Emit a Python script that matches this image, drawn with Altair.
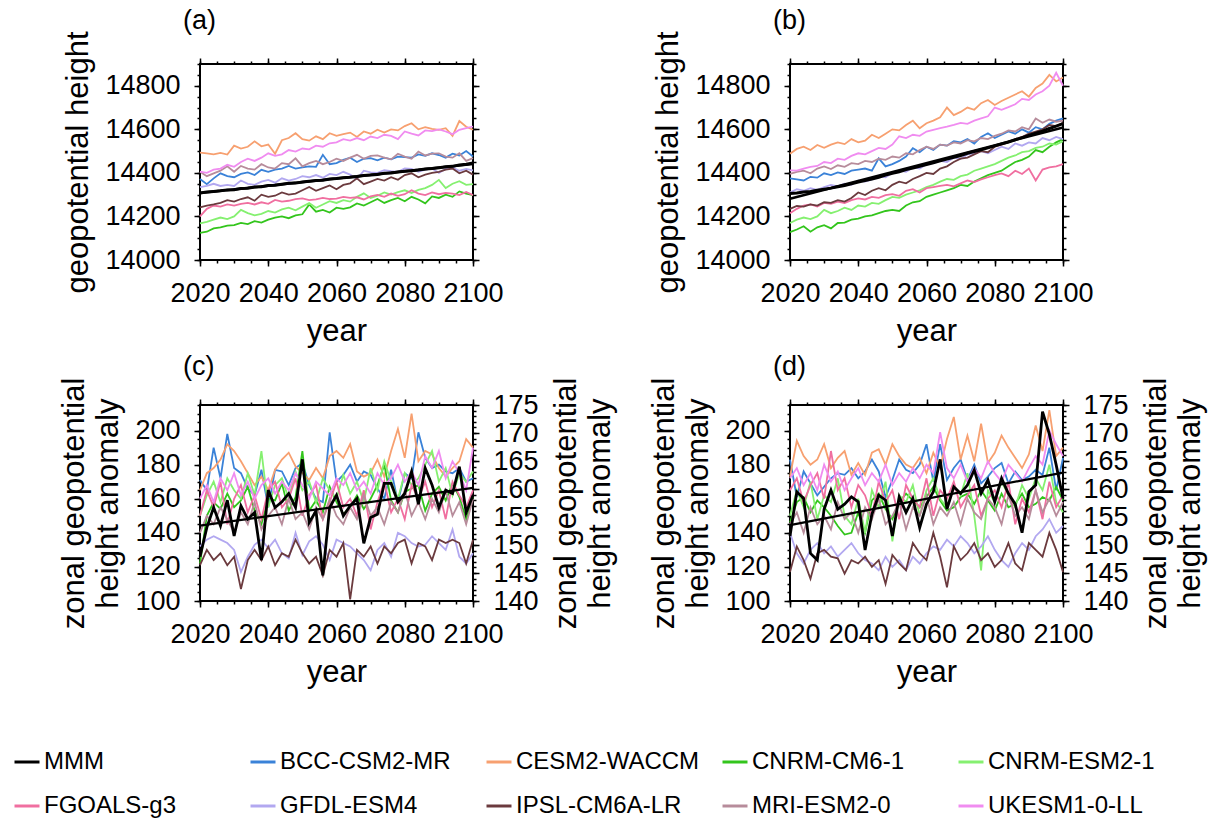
import altair as alt
import pandas as pd

FONT = "Liberation Sans"

YEARS = list(range(2020, 2101, 2))

MODELS = ["BCC-CSM2-MR", "CESM2-WACCM", "CNRM-CM6-1", "CNRM-ESM2-1", "FGOALS-g3",
          "GFDL-ESM4", "IPSL-CM6A-LR", "MRI-ESM2-0", "UKESM1-0-LL"]
SERIES = ["MMM"] + MODELS
COLORS = ["#000000", "#3a82d8", "#f7a070", "#33c51c", "#85f070",
          "#f06fa0", "#b2a8f0", "#6b3a3e", "#b78c9b", "#f08cf0"]

X_MAJOR = [2020, 2040, 2060, 2080, 2100]
X_MINOR = list(range(2020, 2101, 5))
TOP_Y_MAJOR = [14000, 14200, 14400, 14600, 14800]
TOP_Y_MINOR = list(range(14000, 14901, 50))
LEFT_MAJOR = [100, 120, 140, 160, 180, 200]
LEFT_MINOR = list(range(100, 216, 5))
RIGHT_MAJOR = [140, 145, 150, 155, 160, 165, 170, 175]
RIGHT_MINOR = list(range(140, 176, 1))

# ---------------- panel (a) ----------------
A_MODELS = {
    "BCC-CSM2-MR": [14372, 14348, 14375, 14398, 14385, 14380, 14395, 14402, 14390, 14414,
                    14405, 14415, 14420, 14432, 14420, 14425, 14430, 14428, 14483, 14440,
                    14445, 14460, 14470, 14450, 14465, 14468, 14458, 14470, 14462, 14475,
                    14472, 14470, 14485, 14478, 14490, 14482, 14470, 14488, 14480, 14500, 14475],
    "CESM2-WACCM": [14493, 14490, 14485, 14492, 14484, 14525, 14512, 14520, 14545, 14522,
                    14530, 14488, 14550, 14560, 14582, 14555, 14548, 14568, 14555, 14582,
                    14570, 14578, 14585, 14565, 14590, 14580, 14598, 14585, 14600, 14595,
                    14615, 14628, 14600, 14610, 14602, 14598, 14605, 14570, 14638, 14612, 14598],
    "CNRM-CM6-1": [14125, 14130, 14145, 14150, 14158, 14160, 14170, 14165, 14178, 14172,
                   14185, 14195, 14200, 14192, 14205, 14210, 14255, 14222, 14230, 14218,
                   14240, 14235, 14242, 14260, 14250, 14265, 14280, 14262, 14275, 14285,
                   14270, 14290, 14278, 14260, 14292, 14285, 14300, 14290, 14315, 14305, 14298],
    "CNRM-ESM2-1": [14168, 14175, 14185, 14195, 14188, 14200, 14230, 14215, 14205, 14212,
                    14225, 14218, 14232, 14240, 14228, 14245, 14262, 14240, 14255, 14270,
                    14262, 14275, 14268, 14290, 14306, 14285, 14295, 14310, 14300, 14312,
                    14320, 14308, 14322, 14330, 14345, 14368, 14330, 14350, 14362, 14345, 14348],
    "FGOALS-g3": [14200, 14235, 14250, 14245, 14255, 14250, 14258, 14262, 14255, 14265,
                  14258, 14276, 14268, 14272, 14280, 14283, 14275, 14278, 14285, 14280,
                  14282, 14290, 14285, 14288, 14278, 14292, 14299, 14290, 14305, 14295,
                  14302, 14320, 14305, 14298, 14310, 14302, 14308, 14305, 14298, 14312, 14298],
    "GFDL-ESM4": [14335, 14340, 14350, 14340, 14345, 14340, 14365, 14350, 14345, 14360,
                  14368, 14355, 14375, 14365, 14372, 14385, 14380, 14390, 14378, 14395,
                  14390, 14405, 14392, 14372, 14410, 14402, 14400, 14412, 14408, 14405,
                  14420, 14418, 14405, 14415, 14420, 14400, 14418, 14425, 14410, 14418, 14412],
    "IPSL-CM6A-LR": [14242, 14250, 14255, 14262, 14275, 14268, 14280, 14288, 14272, 14300,
                     14290, 14295, 14310, 14300, 14305, 14320, 14335, 14318, 14330, 14342,
                     14325, 14345, 14352, 14375, 14348, 14360, 14372, 14365, 14380, 14368,
                     14390, 14398, 14380, 14392, 14400, 14405, 14415, 14420, 14398, 14410, 14392],
    "MRI-ESM2-0": [14405, 14385, 14398, 14410, 14430, 14405, 14432, 14420, 14415, 14440,
                   14425, 14420, 14445, 14440, 14467, 14430, 14445, 14455, 14440, 14450,
                   14465, 14455, 14470, 14483, 14465, 14478, 14480, 14470, 14462, 14488,
                   14475, 14465, 14498, 14480, 14488, 14490, 14475, 14470, 14490, 14455, 14468],
    "UKESM1-0-LL": [14406, 14400, 14415, 14420, 14437, 14428, 14450, 14465, 14455, 14470,
                    14490, 14478, 14485, 14505, 14498, 14512, 14508, 14525, 14520, 14536,
                    14540, 14555, 14548, 14560, 14550, 14567, 14560, 14575, 14570, 14555,
                    14590, 14580, 14572, 14595, 14592, 14600, 14590, 14578, 14598, 14605, 14613],
}
A_MMM = [14308, 14312, 14315, 14318, 14322, 14323, 14328, 14330, 14335, 14336,
         14342, 14343, 14348, 14352, 14353, 14358, 14362, 14365, 14366, 14372,
         14374, 14378, 14380, 14383, 14388, 14390, 14393, 14398, 14400, 14404,
         14408, 14410, 14413, 14418, 14420, 14424, 14428, 14430, 14436, 14440, 14445]

# ---------------- panel (b) ----------------
B_MODELS = {
    "BCC-CSM2-MR": [14375, 14370, 14365, 14382, 14378, 14398, 14390, 14402, 14395, 14410,
                    14415, 14420, 14410, 14467, 14430, 14440, 14455, 14475, 14513, 14495,
                    14520, 14505, 14530, 14525, 14545, 14540, 14555, 14535, 14565, 14582,
                    14560, 14575, 14590, 14580, 14600, 14585, 14610, 14600, 14625, 14640, 14650],
    "CESM2-WACCM": [14488, 14510, 14520, 14505, 14528, 14515, 14530, 14540, 14532, 14555,
                    14540, 14548, 14575, 14560, 14580, 14600, 14595, 14620, 14640, 14605,
                    14628, 14640, 14655, 14700, 14665, 14680, 14700, 14690, 14720, 14735,
                    14712, 14730, 14745, 14760, 14775, 14750, 14790, 14810, 14850, 14820, 14838],
    "CNRM-CM6-1": [14128, 14140, 14155, 14130, 14150, 14160, 14145, 14170, 14172, 14185,
                   14190, 14200, 14205, 14215, 14225, 14230, 14225, 14250, 14265, 14270,
                   14290, 14300, 14310, 14320, 14330, 14345, 14340, 14360, 14375, 14390,
                   14400, 14410, 14430, 14450, 14460, 14475, 14505, 14495, 14520, 14540, 14555],
    "CNRM-ESM2-1": [14170, 14185, 14195, 14188, 14200, 14230, 14215, 14225, 14240, 14230,
                    14250, 14245, 14262, 14258, 14275, 14290, 14285, 14300, 14310, 14320,
                    14335, 14345, 14360, 14372, 14368, 14385, 14392, 14410, 14420, 14430,
                    14440, 14455, 14470, 14480, 14495, 14500, 14515, 14520, 14535, 14530, 14545],
    "FGOALS-g3": [14215, 14235, 14250, 14255, 14245, 14262, 14258, 14268, 14262, 14275,
                  14283, 14278, 14290, 14285, 14298, 14302, 14295, 14318, 14325, 14310,
                  14330, 14335, 14340, 14345, 14338, 14352, 14365, 14358, 14370, 14380,
                  14390, 14398, 14385, 14410, 14395, 14420, 14365, 14415, 14425, 14430, 14440],
    "GFDL-ESM4": [14310, 14325, 14318, 14330, 14322, 14335, 14345, 14338, 14350, 14345,
                  14365, 14360, 14370, 14385, 14380, 14400, 14410, 14405, 14425, 14420,
                  14440, 14445, 14455, 14450, 14470, 14465, 14485, 14490, 14500, 14490,
                  14505, 14520, 14510, 14535, 14525, 14540, 14535, 14560, 14550, 14565, 14555],
    "IPSL-CM6A-LR": [14235, 14248, 14245, 14255, 14250, 14265, 14262, 14275, 14268, 14285,
                     14310, 14298, 14318, 14330, 14320, 14345, 14360, 14352, 14372, 14385,
                     14400, 14395, 14420, 14430, 14450, 14465, 14470, 14485, 14500, 14495,
                     14520, 14530, 14540, 14555, 14565, 14580, 14590, 14600, 14620, 14615, 14630],
    "MRI-ESM2-0": [14395, 14405, 14410, 14398, 14420, 14430, 14418, 14435, 14428, 14445,
                   14440, 14455, 14450, 14465, 14460, 14475, 14470, 14490, 14485, 14505,
                   14520, 14510, 14530, 14525, 14540, 14535, 14550, 14545, 14560, 14555,
                   14570, 14580, 14595, 14590, 14610, 14600, 14650, 14630, 14645, 14635, 14640],
    "UKESM1-0-LL": [14412, 14410, 14420, 14428, 14432, 14450, 14445, 14465, 14460, 14478,
                    14490, 14485, 14500, 14515, 14510, 14530, 14568, 14560, 14575, 14570,
                    14590, 14598, 14605, 14612, 14620, 14630, 14625, 14640, 14650, 14660,
                    14700, 14690, 14702, 14715, 14740, 14735, 14760, 14775, 14800, 14860, 14800],
}
B_MMM = [14305, 14308, 14312, 14315, 14320, 14325, 14330, 14336, 14342, 14350,
         14358, 14365, 14372, 14380, 14390, 14398, 14405, 14415, 14422, 14430,
         14438, 14446, 14455, 14464, 14472, 14480, 14490, 14498, 14506, 14515,
         14524, 14533, 14542, 14552, 14562, 14572, 14582, 14592, 14604, 14615, 14626]

# ---------------- panel (c) ----------------
C_MODELS = {
    "BCC-CSM2-MR": [171, 165, 190, 172, 198, 178, 175, 166, 162, 177,
                    155, 177, 176, 168, 178, 181, 168, 160, 158, 199,
                    170, 174, 180, 170, 176, 174, 166, 160, 177, 158,
                    175, 172, 199, 184, 178, 180, 176, 175, 178, 170, 172],
    "CESM2-WACCM": [165, 175, 178, 183, 192, 188, 182, 175, 168, 173,
                    165, 177, 183, 187, 179, 175, 171, 178, 172, 185,
                    188, 184, 192, 176, 173, 175, 183, 173, 188, 201,
                    184, 210, 182, 188, 186, 178, 173, 178, 182, 195, 190],
    "CNRM-CM6-1": [122, 150, 158, 154, 163, 155, 159, 167, 153, 145,
                   160, 159, 169, 153, 161, 188, 153, 159, 152, 167,
                   158, 151, 155, 162, 154, 160, 168, 180, 159, 152,
                   164, 166, 168, 153, 163, 167, 159, 169, 161, 148, 161],
    "CNRM-ESM2-1": [150, 162, 170, 158, 172, 165, 160, 175, 162, 188,
                    155, 168, 172, 160, 176, 165, 170, 158, 172, 165,
                    160, 174, 163, 170, 158, 178, 165, 182, 170, 160,
                    175, 168, 172, 180, 188, 170, 178, 162, 175, 170, 176],
    "FGOALS-g3": [150, 165, 155, 170, 145, 160, 168, 152, 162, 148,
                  165, 170, 155, 160, 172, 150, 162, 168, 148, 158,
                  170, 155, 160, 150, 165, 142, 158, 170, 152, 160,
                  148, 168, 160, 170, 155, 165, 148, 170, 162, 155, 165],
    "GFDL-ESM4": [132, 136, 138, 136, 134, 130, 117, 126, 133, 136,
                  131, 136, 128, 125, 140, 127, 135, 138, 133, 124,
                  136, 134, 132, 128, 124, 118, 130, 134, 126, 140,
                  138, 134, 132, 133, 138, 134, 130, 142, 126, 122, 128],
    "IPSL-CM6A-LR": [121, 130, 124, 128, 121, 126, 107, 124, 130, 124,
                     132, 121, 128, 126, 136, 128, 122, 126, 115, 130,
                     126, 134, 101, 130, 126, 132, 122, 132, 128, 134,
                     136, 122, 134, 132, 124, 136, 134, 136, 134, 122, 136],
    "MRI-ESM2-0": [140, 150, 145, 155, 148, 140, 152, 145, 158, 142,
                   150, 155, 145, 160, 148, 152, 142, 155, 148, 160,
                   150, 145, 155, 148, 162, 150, 155, 145, 158, 152,
                   165, 150, 158, 148, 160, 152, 165, 150, 158, 145, 160],
    "UKESM1-0-LL": [160, 168, 158, 172, 165, 175, 162, 170, 160, 168,
                    172, 163, 170, 165, 175, 168, 160, 170, 166, 162,
                    172, 168, 175, 165, 170, 163, 175, 168, 172, 180,
                    170, 176, 168, 185, 178, 188, 172, 182, 175, 165, 190],
}
C_MMM = [147.9, 153.1, 156.7, 153.4, 158.0, 151.6, 157.0, 154.6, 155.8, 147.3,
         159.8, 156.7, 157.7, 159.2, 156.7, 165.3, 154.0, 156.1, 144.6, 156.7,
         158.9, 155.2, 157.0, 158.3, 150.3, 154.9, 155.5, 161.0, 161.0, 157.7,
         159.2, 163.1, 157.3, 163.7, 160.7, 156.7, 159.8, 159.2, 164.0, 155.8, 158.9]

# ---------------- panel (d) ----------------
D_MODELS = {
    "BCC-CSM2-MR": [183, 161, 176, 169, 162, 167, 172, 175, 174, 178,
                    172, 176, 183, 176, 161, 171, 183, 177, 175, 180,
                    192, 170, 192, 171, 178, 183, 171, 180, 169, 173,
                    178, 181, 169, 176, 171, 173, 177, 174, 190, 165, 184],
    "CESM2-WACCM": [173, 194, 185, 180, 183, 192, 178, 184, 188, 174,
                    181, 174, 187, 189, 180, 192, 185, 180, 178, 184,
                    175, 187, 178, 195, 208, 183, 197, 182, 204, 181,
                    187, 197, 190, 184, 178, 186, 203, 188, 212, 185, 190],
    "CNRM-CM6-1": [146, 158, 161, 152, 159, 155, 150, 144, 139, 140,
                   152, 140, 159, 163, 154, 148, 158, 163, 159, 155,
                   161, 167, 159, 153, 155, 161, 163, 157, 165, 159,
                   153, 163, 155, 157, 163, 155, 157, 161, 159, 167, 159],
    "CNRM-ESM2-1": [150, 165, 155, 170, 148, 162, 158, 172, 150, 145,
                    160, 140, 165, 155, 170, 135, 162, 158, 168, 150,
                    165, 172, 160, 155, 168, 162, 175, 150, 118, 165,
                    158, 170, 162, 155, 168, 160, 172, 165, 180, 158, 152],
    "FGOALS-g3": [165, 172, 158, 168, 175, 160, 188, 165, 172, 155,
                  168, 162, 150, 170, 158, 165, 148, 168, 160, 155,
                  172, 150, 165, 160, 170, 155, 162, 168, 150, 160,
                  165, 155, 170, 145, 160, 152, 165, 148, 170, 155, 162],
    "GFDL-ESM4": [140, 128, 122, 130, 134, 128, 132, 126, 130, 134,
                  128, 124, 122, 118, 126, 120, 124, 118, 126, 122,
                  128, 132, 130, 136, 132, 138, 134, 128, 132, 138,
                  130, 124, 120, 128, 134, 130, 138, 142, 148, 140, 144],
    "IPSL-CM6A-LR": [117, 132, 124, 113, 128, 130, 126, 125, 116, 124,
                     122, 126, 120, 124, 110, 127, 122, 118, 134, 128,
                     124, 140, 126, 108, 132, 124, 128, 134, 124, 128,
                     120, 124, 134, 122, 118, 134, 130, 126, 140, 130, 117],
    "MRI-ESM2-0": [145, 152, 140, 155, 145, 150, 142, 158, 148, 152,
                   140, 155, 148, 160, 145, 150, 158, 142, 155, 150,
                   162, 145, 155, 150, 158, 145, 160, 152, 148, 160,
                   155, 145, 162, 150, 155, 148, 165, 152, 160, 150, 158],
    "UKESM1-0-LL": [172, 178, 168, 175, 165, 180, 170, 176, 165, 172,
                    178, 168, 175, 170, 180, 168, 175, 170, 178, 172,
                    180, 175, 199, 178, 172, 180, 170, 178, 172, 182,
                    175, 170, 180, 175, 170, 178, 185, 180, 200, 192, 185],
}
D_MMM = [151.6, 159.5, 158.3, 148.5, 147.3, 156.4, 159.8, 156.4, 157.3, 158.6,
         157.7, 149.1, 155.5, 158.9, 158.0, 151.6, 158.6, 155.8, 158.3, 153.1,
         157.3, 159.5, 165.3, 156.4, 160.4, 159.2, 160.7, 163.4, 159.2, 161.6,
         157.7, 161.9, 159.2, 157.3, 152.2, 159.5, 160.7, 173.8, 169.8, 164.3, 158.3]


def long_df(models):
    rows = []
    for name in MODELS:
        vals = models[name]
        assert len(vals) == len(YEARS), name
        for yr, v in zip(YEARS, vals):
            rows.append({"year": yr, "value": v, "series": name})
    return pd.DataFrame(rows)


def mmm_df(vals):
    assert len(vals) == len(YEARS)
    return pd.DataFrame({"year": YEARS, "value": vals, "series": ["MMM"] * len(YEARS)})


COLOR_SCALE = alt.Scale(domain=SERIES, range=COLORS)
LEGEND = alt.Legend(title=None)
X_SCALE = alt.Scale(domain=[2020, 2100], nice=False, zero=False)

PW, PH = 273, 196
TICK_W = 1.5


def axis(orient, values, labels=False, major=True, title=None, angle=None):
    kw = dict(orient=orient, values=values, labels=labels, domain=False, grid=False,
              ticks=True, tickSize=6 if major else 3, tickWidth=TICK_W, tickColor="black",
              title=title)
    if labels:
        kw.update(labelFontSize=27, labelFont=FONT, labelColor="black", labelPadding=14,
                  format="d", labelFlush=False, labelOverlap=False)
    if title is not None:
        kw.update(titleFontSize=31, titleFont=FONT, titleFontWeight="normal",
                  titleColor="black", titlePadding=10, titleLineHeight=34)
        if angle is not None:
            kw["titleAngle"] = angle
    return alt.Axis(**kw)


def panel_title(tag):
    return alt.Title(tag, anchor="start", frame="group", dx=-17, fontSize=27, font=FONT,
                     fontWeight="normal", color="black", offset=-4)


def top_panel(models, mmm, tag):
    df = long_df(models)
    mdf = mmm_df(mmm)
    ys = alt.Scale(domain=[14000, 14900], nice=False, zero=False)
    lines = alt.Chart(df).mark_line(strokeWidth=1.8).encode(
        x=alt.X("year:Q", scale=X_SCALE, axis=axis("bottom", X_MAJOR, labels=True, title="year")),
        y=alt.Y("value:Q", scale=ys,
                axis=axis("left", TOP_Y_MAJOR, labels=True, title="geopotential height")),
        color=alt.Color("series:N", scale=COLOR_SCALE, legend=LEGEND),
    )
    minor = alt.Chart(df).mark_line(opacity=0).encode(
        x=alt.X("year:Q", scale=X_SCALE, axis=axis("bottom", X_MINOR, major=False)),
        y=alt.Y("value:Q", scale=ys, axis=axis("left", TOP_Y_MINOR, major=False)),
        detail="series:N",
    )
    mean = alt.Chart(mdf).mark_line(strokeWidth=3).encode(
        x=alt.X("year:Q", scale=X_SCALE, axis=axis("top", X_MAJOR)),
        y=alt.Y("value:Q", scale=ys, axis=axis("right", TOP_Y_MAJOR)),
        color=alt.Color("series:N", scale=COLOR_SCALE, legend=LEGEND),
    )
    reg = alt.Chart(mdf).transform_regression("year", "value").mark_line(
        color="black", strokeWidth=2.5).encode(
        x=alt.X("year:Q", scale=X_SCALE, axis=axis("top", X_MINOR, major=False)),
        y=alt.Y("value:Q", scale=ys, axis=axis("right", TOP_Y_MINOR, major=False)),
    )
    return alt.layer(lines, minor, mean, reg).resolve_axis(
        x="independent", y="independent").properties(width=PW, height=PH, title=panel_title(tag))


ZTITLE = ["zonal geopotential", "height anomaly"]


def bottom_panel(models, mmm, tag):
    df = long_df(models)
    mdf = mmm_df(mmm)
    ly = alt.Scale(domain=[100, 215], nice=False, zero=False)
    ry = alt.Scale(domain=[140, 175], nice=False, zero=False)
    lines = alt.Chart(df).mark_line(strokeWidth=1.8).encode(
        x=alt.X("year:Q", scale=X_SCALE, axis=axis("bottom", X_MAJOR, labels=True, title="year")),
        y=alt.Y("value:Q", scale=ly, axis=axis("left", LEFT_MAJOR, labels=True, title=ZTITLE)),
        color=alt.Color("series:N", scale=COLOR_SCALE, legend=LEGEND),
    )
    minor = alt.Chart(df).mark_line(opacity=0).encode(
        x=alt.X("year:Q", scale=X_SCALE, axis=axis("bottom", X_MINOR, major=False)),
        y=alt.Y("value:Q", scale=ly, axis=axis("left", LEFT_MINOR, major=False)),
        detail="series:N",
    )
    left = alt.layer(lines, minor).resolve_axis(x="independent", y="independent")
    mean = alt.Chart(mdf).mark_line(strokeWidth=2.8).encode(
        x=alt.X("year:Q", scale=X_SCALE, axis=axis("top", X_MAJOR)),
        y=alt.Y("value:Q", scale=ry,
                axis=axis("right", RIGHT_MAJOR, labels=True, title=ZTITLE, angle=270)),
        color=alt.Color("series:N", scale=COLOR_SCALE, legend=LEGEND),
    )
    reg = alt.Chart(mdf).transform_regression("year", "value").mark_line(
        color="black", strokeWidth=2.2).encode(
        x=alt.X("year:Q", scale=X_SCALE, axis=axis("top", X_MINOR, major=False)),
        y=alt.Y("value:Q", scale=ry, axis=axis("right", RIGHT_MINOR, major=False)),
    )
    right = alt.layer(mean, reg).resolve_axis(x="independent", y="independent")
    return alt.layer(left, right).resolve_scale(y="independent").resolve_axis(
        x="independent", y="independent").properties(width=PW, height=PH, title=panel_title(tag))


pa = top_panel(A_MODELS, A_MMM, "(a)")
pb = top_panel(B_MODELS, B_MMM, "(b)")
pc = bottom_panel(C_MODELS, C_MMM, "(c)")
pd_ = bottom_panel(D_MODELS, D_MMM, "(d)")

row1 = alt.hconcat(pa, pb, spacing=146)
row2 = alt.hconcat(pc, pd_, spacing=30)

chart = alt.vconcat(row1, row2, spacing=5).properties(
    padding={"left": 13, "top": 5, "right": 5, "bottom": 5}
).configure(
    font=FONT
).configure_view(
    stroke="black", strokeWidth=2
).configure_legend(
    orient="none", legendX=-187, legendY=684, direction="horizontal", columns=5,
    symbolType="stroke", symbolSize=625, symbolStrokeWidth=3,
    labelFontSize=24, labelFont=FONT, labelColor="black", labelOffset=3,
    gridAlign="all", columnPadding=16, rowPadding=18, labelLimit=400,
)

chart.save("out.html", embed_options={"renderer": "svg", "actions": False})
